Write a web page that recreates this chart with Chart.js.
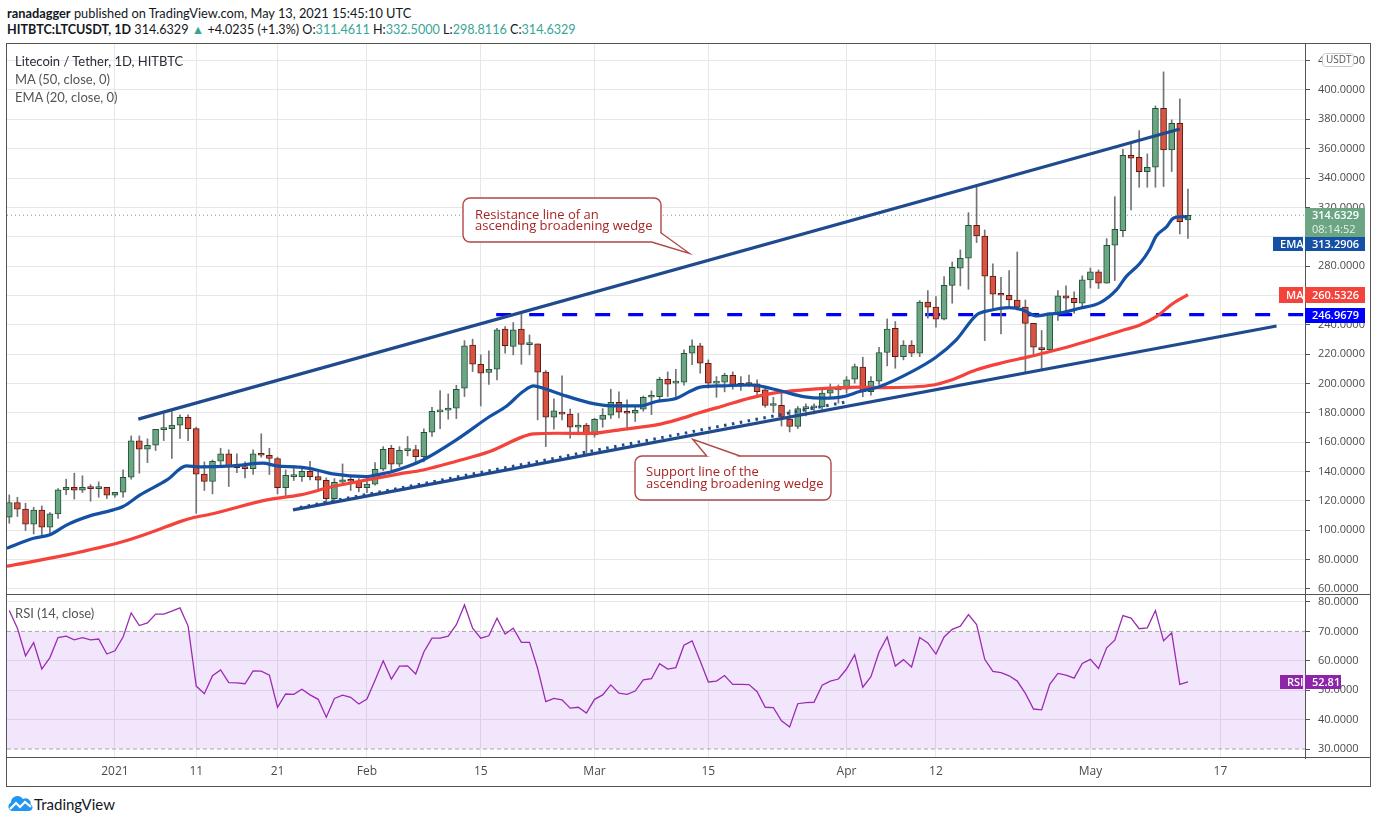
<!DOCTYPE html>
<html>
<head>
<meta charset="utf-8">
<script src="https://cdn.jsdelivr.net/npm/chart.js@4.4.0/dist/chart.umd.min.js"></script>
<style>
  html, body { margin: 0; padding: 0; background: #fff; }
  #page { position: relative; width: 1376px; height: 823px; overflow: hidden; font-family: Lato, 'Open Sans', sans-serif; color: #131722; }
  .abs { position: absolute; white-space: nowrap; }
  .up { color: #37a596; }
  .hline { position: absolute; left: 6px; width: 1364px; height: 1px; background: #555; }
  canvas { position: absolute; left: 0; }
  .legend { font-size: 13px; color: #555; z-index: 2; line-height: 16px; }
</style>
</head>
<body>
<div id="page">
  <div class="abs" style="left:7px;top:5px;font-size:12.8px;"><b>ranadagger</b> published on TradingView.com, May 13, 2021 15:45:10 UTC</div>
  <div class="abs" style="left:7px;top:22px;font-size:12.6px;"><b>HITBTC:LTCUSDT, 1D</b> 314.6329 <span class="up">&#9650;</span> +4.0235 (+1.3%) O:<span class="up">311.4611</span> H:<span class="up">332.5000</span> L:<span class="up">298.8116</span> C:<span class="up">314.6329</span></div>

  <div class="abs" style="left:6px;top:43px;width:1365px;height:744px;box-sizing:border-box;border:1px solid #555;"></div>

  <canvas id="priceChart" width="1376" height="551" style="top:44px;width:1376px;height:551px;"></canvas>
  <canvas id="rsiChart" width="1376" height="191" style="top:595px;width:1376px;height:191px;"></canvas>
  <div class="hline" style="top:594px;"></div>
  <div class="hline" style="top:757px;"></div>

  <div class="abs legend" style="left:15px;top:53px;color:#2a2e39;">Litecoin / Tether, 1D, HITBTC</div>
  <div class="abs legend" style="left:15px;top:71px;">MA (50, close, 0)</div>
  <div class="abs legend" style="left:15px;top:89px;">EMA (20, close, 0)</div>
  <div class="abs legend" style="left:15px;top:605px;">RSI (14, close)</div>

  <div class="abs" style="left:7px;top:795px;">
    <svg width="26" height="16" viewBox="0 0 26 16">
      <path d="M5 16 A4.5 4.5 0 0 1 4 7.5 A6.5 6.5 0 0 1 16 4 A5 5 0 0 1 23.5 9.5 A3.4 3.4 0 0 1 22 16 Z" fill="#2196f3"/>
      <polyline points="3,14 9,8 13,12 18,7 24,12" stroke="#fff" stroke-width="2.2" fill="none"/>
    </svg>
  </div>
  <div class="abs" style="left:34px;top:795px;font-size:15px;color:#131722;">TradingView</div>
</div>

<script>
// --- DATA (day 0 = 1 Jan 2021, one candle per day) ---
const firstDay = -13;

const opens = [
  108.9, 118.9, 114.4, 104.1, 113.7, 102.1, 111.2, 127.5, 129.3, 127.3, 129.3, 128.4, 129.3,
  123.9, 125.9, 136.1, 160.9, 155.2, 157.9, 168.6, 169.3, 171.6, 177.0,
  169.3, 138.2, 133.2, 147.0, 152.0, 143.4, 142.7, 142.0, 152.0, 151.1,
  148.9, 129.1, 136.6, 136.6, 140.2, 136.6, 134.1, 121.6, 132.7, 134.3,
  133.4, 129.1, 131.4, 141.6, 155.9, 145.1, 154.3, 155.0, 150.2, 166.8,
  180.7, 181.8, 183.2, 196.8, 226.1, 213.1, 207.5, 209.7, 237.0, 225.2,
  237.0, 226.5, 227.0, 207.7, 177.0, 180.4, 179.1, 170.2, 171.6, 165.0,
  175.6, 178.4, 187.2, 180.6, 179.7, 182.5, 190.6, 191.1, 202.9, 200.2,
  200.9, 220.6, 225.6, 213.8, 200.2, 200.9, 205.6, 199.5, 199.7, 199.7,
  195.6, 185.0, 185.2, 175.7, 170.7, 182.9, 183.4, 184.0, 193.4, 195.6,
  196.1, 202.9, 211.1, 194.5, 201.5, 221.1, 237.6, 218.3, 226.1, 220.6,
  255.4, 252.0, 243.8, 266.9, 278.5, 285.3, 307.8, 300.5, 273.1, 261.0,
  260.1, 256.9, 252.0, 241.0, 224.2, 223.1, 247.4, 259.7, 258.1, 254.7,
  270.6, 276.0, 268.3, 294.2, 304.2, 355.5, 354.1, 344.4, 347.3, 387.5,
  359.1, 377.3, 311.4611
];
const highs = [
  124.1, 122.5, 118.4, 115.7, 116.6, 112.1, 128.4, 134.8, 138.9, 137.1, 131.1, 133.0, 129.3,
  125.9, 141.1, 164.3, 164.3, 162.3, 168.8, 179.3, 180.9, 178.6, 178.6,
  170.2, 146.6, 147.9, 155.9, 154.8, 152.0, 146.6, 154.8, 165.7, 155.9,
  149.8, 141.1, 143.4, 143.0, 147.0, 140.2, 135.7, 135.2, 145.2, 137.5,
  135.2, 136.1, 146.1, 157.0, 157.9, 157.0, 163.9, 157.9, 169.1, 183.8,
  195.2, 192.9, 198.8, 229.2, 230.2, 219.5, 222.2, 237.6, 238.8, 241.5,
  247.4, 233.1, 227.0, 208.8, 189.5, 205.2, 182.5, 179.7, 172.9, 176.3,
  182.9, 196.1, 194.3, 188.8, 184.7, 191.5, 195.0, 204.3, 207.9, 209.7,
  222.9, 229.7, 227.4, 216.1, 204.7, 207.0, 207.9, 204.7, 205.8, 202.5,
  197.9, 190.6, 194.0, 182.0, 184.3, 186.1, 186.1, 196.5, 199.7, 199.0,
  204.7, 213.3, 217.9, 204.7, 224.7, 244.0, 242.2, 229.2, 229.2, 256.5,
  263.3, 259.2, 272.8, 282.8, 291.0, 316.4, 334.1, 304.6, 281.5, 272.4,
  276.9, 289.6, 256.9, 241.0, 236.1, 247.9, 263.3, 266.5, 262.4, 273.3,
  278.7, 277.4, 298.7, 327.3, 359.6, 363.7, 372.3, 356.4, 389.1, 412.3,
  379.6, 393.9, 332.5
];
const lows = [
  104.8, 109.4, 99.8, 97.5, 95.7, 97.5, 108.0, 124.3, 121.2, 125.7, 119.8, 122.5, 121.6,
  122.5, 122.5, 134.8, 138.9, 146.1, 154.3, 161.1, 148.9, 162.5, 161.1,
  111.6, 127.1, 124.8, 142.9, 129.8, 139.3, 135.7, 138.0, 149.8, 138.0,
  124.8, 122.5, 133.9, 133.2, 134.3, 127.5, 118.9, 120.3, 130.7, 127.1,
  126.2, 125.7, 130.7, 140.7, 141.1, 143.4, 150.7, 144.8, 146.6, 163.9,
  169.3, 175.7, 176.1, 191.1, 208.1, 184.7, 199.3, 202.5, 220.6, 219.5,
  213.1, 219.5, 175.2, 157.0, 168.8, 175.2, 162.7, 165.0, 152.5, 163.4,
  170.2, 176.1, 176.6, 168.4, 174.1, 181.1, 178.8, 187.9, 191.1, 191.1,
  198.8, 212.9, 207.0, 196.8, 190.6, 194.3, 196.1, 195.2, 197.9, 192.2,
  183.8, 180.2, 171.0, 167.0, 169.3, 177.9, 179.3, 182.5, 189.7, 186.6,
  193.4, 200.2, 191.0, 192.0, 199.3, 212.0, 210.4, 216.1, 218.3, 218.3,
  244.5, 238.3, 243.3, 254.7, 266.5, 264.2, 296.0, 229.2, 250.1, 233.8,
  251.3, 250.1, 208.1, 219.5, 209.7, 221.1, 242.9, 247.9, 247.9, 252.0,
  265.1, 264.7, 268.3, 270.1, 300.1, 318.3, 333.7, 333.7, 333.7, 334.2,
  344.4, 301.9, 298.8116
];
const closes = [
  118.9, 114.4, 104.1, 113.7, 102.1, 111.2, 127.5, 129.3, 127.3, 129.3, 128.4, 129.3, 123.9,
  125.9, 136.1, 160.9, 155.2, 157.9, 168.8, 169.1, 171.6, 177.0, 169.3,
  138.2, 133.2, 147.0, 152.0, 143.4, 142.7, 142.0, 152.0, 151.1, 148.9,
  129.1, 137.5, 137.5, 140.2, 136.6, 134.1, 121.6, 132.7, 134.3, 133.4,
  129.1, 131.4, 141.6, 155.2, 145.1, 154.5, 155.2, 150.2, 166.8, 181.1,
  181.6, 183.2, 196.1, 225.6, 213.1, 207.0, 209.7, 236.5, 225.8, 236.5,
  226.7, 227.2, 207.7, 177.0, 181.3, 179.1, 170.2, 171.6, 165.0, 175.6,
  178.4, 187.2, 180.4, 179.7, 181.8, 190.6, 191.5, 202.9, 199.5, 200.9,
  220.6, 225.6, 213.8, 200.2, 201.1, 205.6, 199.3, 198.8, 199.3, 194.5,
  185.0, 185.4, 177.0, 170.7, 182.9, 184.0, 184.0, 193.4, 195.6, 196.3,
  202.5, 211.5, 194.5, 201.5, 221.1, 237.0, 218.3, 226.1, 220.6, 255.4,
  252.0, 243.8, 266.9, 279.2, 285.3, 307.8, 300.5, 273.1, 260.8, 260.1,
  256.9, 252.0, 241.0, 224.7, 223.1, 247.4, 259.7, 258.2, 255.1, 270.6,
  276.0, 268.3, 294.2, 305.1, 355.5, 353.5, 344.4, 347.3, 387.5, 359.1,
  377.3, 310.3, 314.6329
];

// EMA 20 and MA 50 at these days
const emaDays = [-13.3, -10, -8, -5.9, -3.1, -0.2, 1, 3.1, 6.4, 8.8, 10.5, 14.5, 18.2, 19.9, 22.8, 24.8, 26.8, 31, 32.2, 33.8, 35,
  37.9, 42, 46.1, 48.2, 50.2, 51.5, 52.7, 55.1, 58.4, 60, 62.5, 64.6, 66.6, 69.1, 70.7, 72, 74.8, 78.1, 79.7, 82.2, 84.7, 87.1,
  89.6, 91.6, 94.1, 97.8, 101, 103.5, 106, 107.6, 110, 111.7, 113.4, 115, 116.2, 118.7, 121.2, 123.2, 124.4, 126.1, 127.3,
  128.1, 129.4, 130.2, 131.4, 132];
const emaValues = [87.8, 94.6, 96.9, 103.7, 109.8, 113.9, 116.2, 124.1, 134.3, 143.9, 143.2, 143.9, 145.7, 143.9, 143.0, 141.1, 138.4, 136.6, 137.8, 139.5, 141.5,
  147.9, 161.6, 177.5, 184.7, 194.5, 198.4, 196.8, 192.2, 186.8, 185.3, 184.7, 184.7, 187.7, 190.0, 194.5, 197.5, 198.4, 199.0, 197.9, 194.5, 191.1, 190.0,
  191.1, 194.5, 198.0, 207.4, 217.9, 229.7, 246.7, 249.7, 251.7, 250.1, 246.0, 247.4, 247.9, 251.3, 255.1, 263.8, 272.8, 281.9, 291.5,
  300.5, 306.9, 312.6, 313.7, 313.29];
const maDays = [-13.3, -5.9, 1, 4.7, 8, 9.7, 11.7, 18.7, 22.8, 26.8, 31, 35, 37.9, 42, 46.1, 50.2, 51.5, 54.4, 58.4, 62.5, 66.6,
  69.1, 72, 74.8, 78.1, 81.4, 84.7, 88, 91.6, 94.5, 100.7, 102.7, 106, 109.3, 112.5, 115, 117.4, 124.4, 126.1, 128.1, 130.2, 132];
const maValues = [75.5, 83.2, 92.3, 99.1, 105.9, 108.7, 110.9, 120.7, 124.1, 129.8, 134.3, 138.4, 141.1, 147.0, 153.6, 163.8, 165.7, 166.1, 166.0, 168.8, 171.8,
  175.2, 180.2, 184.7, 190.0, 193.8, 195.6, 196.8, 197.5, 197.2, 199.0, 202.0, 209.3, 214.3, 218.3, 221.8, 225.2, 236.9, 239.9, 245.6, 254.7, 260.53];

const rsiValues = [
  77.1, 71.1, 61.7, 66.2, 57.2, 61.1, 67.9, 68.4, 67.1, 67.9, 67.1, 67.4, 62.3,
  63.4, 68.1, 76.3, 72.0, 72.9, 75.9, 75.9, 76.9, 78.0, 71.8,
  51.4, 48.8, 54.9, 56.9, 52.6, 52.5, 52.2, 56.6, 56.5, 55.1,
  44.2, 48.7, 48.6, 50.3, 48.4, 46.9, 40.8, 47.2, 48.3, 47.6,
  45.3, 47.0, 53.4, 60.0, 53.8, 58.2, 58.3, 55.5, 63.0, 67.7,
  67.7, 68.4, 72.3, 79.0, 71.1, 67.7, 68.5, 74.5, 69.1, 71.1,
  66.3, 66.3, 57.4, 46.1, 47.2, 46.7, 43.9, 44.2, 42.2, 46.9,
  48.4, 51.8, 49.0, 48.6, 49.7, 53.5, 53.9, 59.0, 57.2, 57.7,
  65.3, 66.8, 59.9, 52.8, 53.1, 55.0, 52.0, 52.0, 51.9, 49.5,
  44.2, 44.1, 39.6, 37.5, 45.4, 45.8, 45.9, 51.7, 53.1, 53.8,
  57.2, 62.1, 51.0, 54.6, 63.0, 68.1, 58.2, 60.4, 57.9, 67.9,
  66.1, 62.3, 68.1, 70.7, 71.8, 75.7, 72.3, 60.5, 56.4, 56.0,
  54.9, 53.1, 48.9, 43.6, 43.3, 52.0, 55.7, 55.1, 54.1, 59.1,
  60.5, 57.4, 64.4, 67.0, 75.4, 74.5, 70.9, 71.2, 77.1, 66.8,
  69.5, 52.0, 52.81
];

const tickDays = [0, 10, 20, 31, 45, 59, 73, 90, 101, 120, 136];
const tickLabels = ['2021', '11', '21', 'Feb', '15', 'Mar', '15', 'Apr', '12', 'May', '17'];
const priceTicks = [60, 80, 100, 120, 140, 160, 180, 200, 220, 240, 260, 280, 300, 320, 340, 360, 380, 400, 420];
const rsiTicks = [30, 40, 50, 60, 70, 80];

// drawn lines [day, price]
const resistanceLine = [[2.87, 175.7], [131.0, 373.4]];
const supportLine = [[21.9, 113.9], [142.9, 239.2]];
const dottedSupport = [[22.75, 115.6], [90.4, 187.9]];
const levelPrice = 246.9679;
const levelStart = 46.9;

const lastEma = 313.2906;
const lastMa = 260.5326;
const countdown = '08:14:52';

// --- view settings ---
const xMin = -13.28, xMax = 146.4;
const upFill = '#6ba583', upBorder = '#225437';
const downFill = '#d75442', downBorder = '#5b1a13';
const wickColor = '#737375';
const emaColor = '#1450a3', maColor = '#f4433a', trendColor = '#1f4a8e';
const gridColor = '#e7e7e7';
const axisText = '#4b4b4b';

Chart.defaults.font.family = "'Open Sans', sans-serif";
Chart.defaults.animation = false;

const toXY = pts => pts.map(p => ({ x: p[0], y: p[1] }));
const isUp = i => closes[i] >= opens[i];

function fixAxis(width, height) {
  return function (scale) {
    if (width !== null) scale.width = width;
    if (height !== null) scale.height = height;
    scale.paddingTop = 0; scale.paddingBottom = 0;
    scale.paddingLeft = 0; scale.paddingRight = 0;
  };
}

function roundRect(ctx, x, y, w, h, r) {
  ctx.beginPath();
  ctx.moveTo(x + r, y);
  ctx.arcTo(x + w, y, x + w, y + h, r);
  ctx.arcTo(x + w, y + h, x, y + h, r);
  ctx.arcTo(x, y + h, x, y, r);
  ctx.arcTo(x, y, x + w, y, r);
  ctx.closePath();
}

function tag(ctx, x, y, w, h, color, text, bold) {
  ctx.fillStyle = color;
  ctx.fillRect(x, y, w, h);
  ctx.fillStyle = '#fff';
  ctx.font = (bold ? '600 ' : '') + "11px 'Open Sans'";
  ctx.textBaseline = 'middle';
  ctx.fillText(text, x + 7, y + h / 2 + 0.5);
}

// --- callouts (page pixels) ---
const callouts = [
  { box: [463, 198, 661, 242], tail: [[660.5, 232.5], [689.3, 253.3], [651.5, 242]], inner: [655, 236],
    lines: ['Resistance line of an', 'ascending broadening wedge'], textX: 475, base: [218.5, 229.8] },
  { box: [635, 456, 831, 500], tail: [[706.7, 456], [692.7, 439.3], [740, 456]], inner: [723, 460],
    lines: ['Support line of the', 'ascending broadening wedge'], textX: 646, base: [476.2, 487.7] }
];

const calloutPlugin = {
  id: 'callouts',
  afterDatasetsDraw(chart) {
    const ctx = chart.ctx;
    const off = 44;
    ctx.save();
    callouts.forEach(c => {
      const x = c.box[0], y = c.box[1] - off, w = c.box[2] - c.box[0], h = c.box[3] - c.box[1];
      ctx.fillStyle = '#ffffff';
      ctx.strokeStyle = '#b04848';
      ctx.lineWidth = 1.4;
      roundRect(ctx, x, y, w, h, 7);
      ctx.fill(); ctx.stroke();
      const [a, t, b] = c.tail.map(p => [p[0], p[1] - off]);
      ctx.beginPath();
      ctx.moveTo(a[0], a[1]); ctx.lineTo(t[0], t[1]); ctx.lineTo(b[0], b[1]);
      ctx.lineTo(c.inner[0], c.inner[1] - off);
      ctx.closePath(); ctx.fill();
      ctx.beginPath();
      ctx.moveTo(a[0], a[1]); ctx.lineTo(t[0], t[1]); ctx.lineTo(b[0], b[1]);
      ctx.stroke();
      ctx.fillStyle = '#a82424';
      ctx.font = "13px 'Open Sans'";
      ctx.textBaseline = 'alphabetic';
      c.lines.forEach((s, i) => ctx.fillText(s, c.textX, c.base[i] - off));
    });
    ctx.restore();
  }
};

const priceTagPlugin = {
  id: 'priceTags',
  afterDraw(chart) {
    const ctx = chart.ctx, ys = chart.scales.y;
    const right = chart.chartArea.right;
    const last = closes[closes.length - 1];
    ctx.save();
    // USDT badge over the top label
    ctx.fillStyle = '#fff'; ctx.strokeStyle = '#c8c8cc'; ctx.lineWidth = 1;
    roundRect(ctx, 1322.5, 9.5, 31, 13, 3); ctx.fill(); ctx.stroke();
    ctx.fillStyle = '#555'; ctx.font = "10px 'Open Sans'"; ctx.textBaseline = 'middle';
    ctx.fillText('USDT', 1326, 16.5);

    // last price with countdown
    const py = ys.getPixelForValue(last);
    const top = Math.round(py - 7.5);
    ctx.fillStyle = upFill;
    ctx.fillRect(right, top, 60, 29);
    ctx.fillStyle = '#fff'; ctx.font = "600 11px 'Open Sans'";
    ctx.fillText(last.toFixed(4), right + 7, top + 8);
    ctx.fillStyle = '#e4f2e9'; ctx.font = "11px 'Open Sans'";
    ctx.fillText(countdown, right + 7, top + 22);

    // EMA stacked below
    const emaTop = top + 29;
    tag(ctx, right - 32, emaTop, 30, 14, emaColor, 'EMA', true);
    tag(ctx, right, emaTop, 60, 14, emaColor, lastEma.toFixed(4), true);

    const my = Math.round(ys.getPixelForValue(lastMa));
    tag(ctx, right - 26, my - 8, 24, 16, maColor, 'MA', true);
    tag(ctx, right, my - 8, 60, 16, maColor, lastMa.toFixed(4), true);

    const ly = Math.round(ys.getPixelForValue(levelPrice));
    tag(ctx, right, ly - 7, 60, 15, '#0000ff', levelPrice.toFixed(4), true);
    ctx.restore();
  }
};

const rsiTagPlugin = {
  id: 'rsiTag',
  afterDraw(chart) {
    const ctx = chart.ctx, ys = chart.scales.y;
    const right = chart.chartArea.right;
    const v = rsiValues[rsiValues.length - 1];
    const y = Math.round(ys.getPixelForValue(v));
    ctx.save();
    tag(ctx, right - 25, y - 7, 23, 14, '#8e24aa', 'RSI', true);
    tag(ctx, right, y - 7, 36, 14, '#8e24aa', v.toFixed(2), true);
    ctx.restore();
  }
};

const xTicks = scale => { scale.ticks = tickDays.map(v => ({ value: v })); };

// --- PRICE CHART ---
const priceCanvas = document.getElementById('priceChart');
if (priceCanvas) {
  const ctx = priceCanvas.getContext('2d');
  new Chart(ctx, {
    type: 'bar',
    data: {
      datasets: [
        {
          type: 'line', order: 0,
          data: toXY(resistanceLine),
          borderColor: trendColor, borderWidth: 3.2, pointRadius: 0
        },
        {
          type: 'line', order: 0,
          data: toXY(supportLine),
          borderColor: trendColor, borderWidth: 3.2, pointRadius: 0
        },
        {
          type: 'line', order: 0,
          data: toXY(dottedSupport),
          borderColor: trendColor, borderWidth: 3, borderDash: [2.5, 5.5], pointRadius: 0
        },
        {
          type: 'line', order: 0,
          data: emaDays.map((d, i) => ({ x: d, y: emaValues[i] })),
          borderColor: emaColor, borderWidth: 3.2, pointRadius: 0,
          cubicInterpolationMode: 'monotone'
        },
        {
          type: 'line', order: 0,
          data: maDays.map((d, i) => ({ x: d, y: maValues[i] })),
          borderColor: maColor, borderWidth: 3.2, pointRadius: 0,
          cubicInterpolationMode: 'monotone'
        },
        {
          type: 'bar', order: 1, grouped: false,
          data: opens.map((o, i) => ({ x: firstDay + i, y: [o, closes[i]] })),
          backgroundColor: opens.map((o, i) => isUp(i) ? upFill : downFill),
          borderColor: opens.map((o, i) => isUp(i) ? upBorder : downBorder),
          borderWidth: 1, borderSkipped: false, barThickness: 6, minBarLength: 2
        },
        {
          type: 'bar', order: 2, grouped: false,
          data: lows.map((l, i) => ({ x: firstDay + i, y: [l, highs[i]] })),
          backgroundColor: wickColor, borderWidth: 0, barThickness: 1
        },
        {
          type: 'line', order: 3,
          data: [{ x: levelStart, y: levelPrice }, { x: xMax, y: levelPrice }],
          borderColor: '#0000ff', borderWidth: 3.3, borderDash: [15, 18], pointRadius: 0
        },
        {
          type: 'line', order: 4,
          data: [{ x: xMin, y: closes[closes.length - 1] }, { x: xMax, y: closes[closes.length - 1] }],
          borderColor: upFill, borderWidth: 1, borderDash: [1, 3], pointRadius: 0
        }
      ]
    },
    options: {
      responsive: false,
      layout: { padding: { left: 7, right: 0, top: 0, bottom: 0 } },
      plugins: { legend: { display: false }, tooltip: { enabled: false } },
      scales: {
        x: {
          type: 'linear', min: xMin, max: xMax, offset: false,
          afterBuildTicks: xTicks,
          afterFit: fixAxis(null, 0),
          ticks: { display: false },
          grid: { color: gridColor, drawTicks: false, offset: false },
          border: { display: false }
        },
        y: {
          position: 'right', min: 55.9, max: 431.3,
          afterBuildTicks: s => { s.ticks = priceTicks.map(v => ({ value: v })); },
          afterFit: fixAxis(71, null),
          ticks: { callback: v => v.toFixed(4), color: axisText, font: { size: 11 }, padding: 8 },
          grid: { color: gridColor, tickLength: 5, tickColor: '#555' },
          border: { display: true, color: '#555' }
        }
      }
    },
    plugins: [calloutPlugin, priceTagPlugin]
  });
}

// --- RSI CHART ---
const rsiCanvas = document.getElementById('rsiChart');
if (rsiCanvas) {
  const ctx2 = rsiCanvas.getContext('2d');
  new Chart(ctx2, {
    type: 'line',
    data: {
      datasets: [
        {
          data: rsiValues.map((v, i) => ({ x: firstDay + i, y: v })),
          borderColor: '#9c2bb4', borderWidth: 1.3, pointRadius: 0, tension: 0
        },
        {
          data: [{ x: xMin, y: 70 }, { x: xMax, y: 70 }],
          borderColor: '#a6a6a6', borderWidth: 1, borderDash: [4, 3], pointRadius: 0
        },
        {
          data: [{ x: xMin, y: 30 }, { x: xMax, y: 30 }],
          borderColor: '#a6a6a6', borderWidth: 1, borderDash: [4, 3], pointRadius: 0,
          fill: '-1', backgroundColor: 'rgba(150, 50, 240, 0.12)'
        }
      ]
    },
    options: {
      responsive: false,
      layout: { padding: { left: 7, right: 0, top: 0, bottom: 0 } },
      plugins: { legend: { display: false }, tooltip: { enabled: false } },
      scales: {
        x: {
          type: 'linear', min: xMin, max: xMax,
          afterBuildTicks: xTicks,
          afterFit: fixAxis(null, 28),
          ticks: {
            autoSkip: false, maxRotation: 0, padding: 6, color: axisText, font: { size: 12 },
            callback: v => tickLabels[tickDays.indexOf(v)]
          },
          grid: { color: gridColor, drawTicks: false },
          border: { display: false }
        },
        y: {
          position: 'right', min: 26.94, max: 82.38,
          afterBuildTicks: s => { s.ticks = rsiTicks.map(v => ({ value: v })); },
          afterFit: fixAxis(71, null),
          ticks: { callback: v => v.toFixed(4), color: axisText, font: { size: 11 }, padding: 8 },
          grid: {
            color: c => (c.tick && (c.tick.value === 30 || c.tick.value === 70)) ? 'rgba(0,0,0,0)' : gridColor,
            tickLength: 5, tickColor: '#555'
          },
          border: { display: true, color: '#555' }
        }
      }
    },
    plugins: [rsiTagPlugin]
  });
}
</script>
</body>
</html>
